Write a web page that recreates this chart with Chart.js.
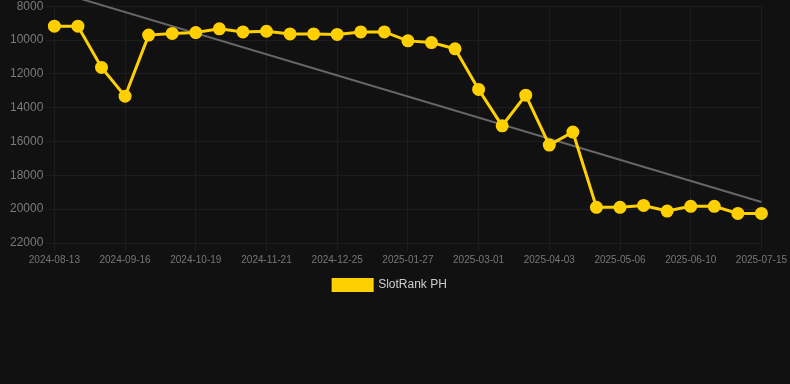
<!DOCTYPE html>
<html><head><meta charset="utf-8">
<script src="https://cdn.jsdelivr.net/npm/chart.js@4"></script>
<style>html,body{margin:0;padding:0;background:#111111;overflow:hidden;}#wrap{width:790px;height:305px;position:relative;top:-4px;}</style>
</head><body><div id="wrap"><canvas id="c"></canvas></div>
<script>
const categories = ["2024-08-13","2024-08-24","2024-09-05","2024-09-16","2024-09-27","2024-10-08","2024-10-19","2024-10-30","2024-11-10","2024-11-21","2024-12-02","2024-12-13","2024-12-25","2025-01-05","2025-01-16","2025-01-27","2025-02-07","2025-02-18","2025-03-01","2025-03-12","2025-03-23","2025-04-03","2025-04-14","2025-04-25","2025-05-06","2025-05-18","2025-05-29","2025-06-10","2025-06-21","2025-07-03","2025-07-15"];
const rankValues = [9180,9180,11620,13320,9710,9610,9560,9340,9520,9480,9640,9640,9670,9520,9520,10050,10150,10520,12920,15070,13260,16210,15440,19890,19890,19780,20110,19830,19830,20250,20250];
const trendValues = [7100,null,null,null,null,null,null,null,null,null,null,null,null,null,null,null,null,null,null,null,null,null,null,null,null,null,null,null,null,null,19580];
const yTicks = [8000,10000,12000,14000,16000,18000,20000,22000];

const shiftLegend = {
  id:'shiftLegend',
  afterLayout(chart){ const l = chart.legend; if(l){ l.left -= 5; l.right -= 5; } }
};

new Chart(document.getElementById('c'), {
  type: 'line',
  data: {
    labels: categories,
    datasets: [
      {label:'SlotRank PH', data: rankValues, borderColor:'#FFD000', backgroundColor:'#FFD000', borderWidth:3, pointRadius:5, pointHoverRadius:5, pointBackgroundColor:'#FFD000', pointBorderColor:'#FFD000', tension:0},
      {label:'trend', data: trendValues, borderColor:'#666666', borderWidth:2, pointRadius:0, spanGaps:true, clip:false}
    ]
  },
  plugins:[shiftLegend],
  options: {
    responsive:true, maintainAspectRatio:false, animation:false,
    plugins:{
      legend:{position:'bottom', labels:{color:'#cccccc', font:{family:'Arial, Liberation Sans', size:12}, boxWidth:39, boxHeight:11, filter:(i)=>i.datasetIndex===0}},
      tooltip:{enabled:false}
    },
    scales:{
      x:{grid:{color:'#1d1d1d'}, border:{color:'#1d1d1d'}, ticks:{color:'#777777', font:{family:'Arial, Liberation Sans', size:10}, maxRotation:0, autoSkip:true, maxTicksLimit:11}},
      y:{reverse:true, min:8000, max:22000, afterBuildTicks:(ax)=>{ax.ticks = yTicks.map(v=>({value:v}));}, afterFit:(s)=>{s.width += 7;}, grid:{color:'#1d1d1d'}, border:{color:'#1d1d1d'}, ticks:{color:'#7a7a7a', font:{family:'Arial, Liberation Sans', size:12}, callback:(v)=>String(v)}}
    }
  }
});
</script></body></html>
